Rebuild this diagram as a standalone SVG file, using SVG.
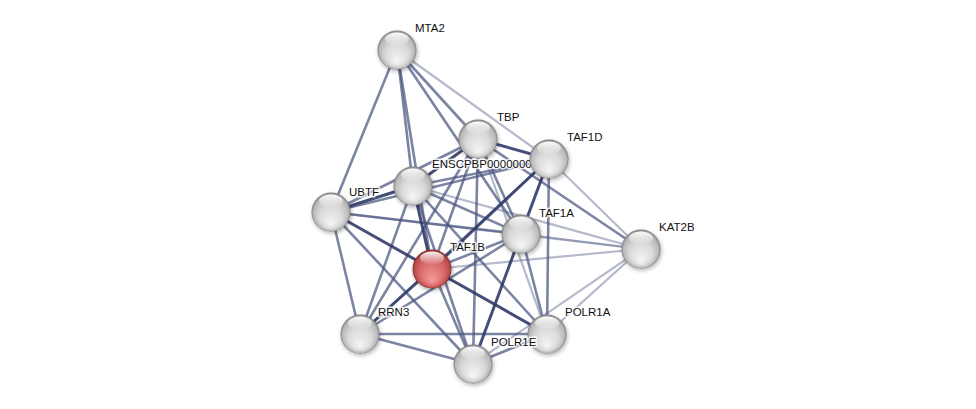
<svg xmlns="http://www.w3.org/2000/svg" width="976" height="409" viewBox="0 0 976 409">
<defs>
<radialGradient id="gGrey" cx="50%" cy="50%" r="50%" fx="50%" fy="82%">
<stop offset="0" stop-color="#f6f6f6"/>
<stop offset="0.6" stop-color="#d9d9d9"/>
<stop offset="0.9" stop-color="#b8b8b8"/>
<stop offset="1" stop-color="#7e7e7e"/>
</radialGradient>
<radialGradient id="gRed" cx="50%" cy="50%" r="50%" fx="50%" fy="82%">
<stop offset="0" stop-color="#f59c9c"/>
<stop offset="0.6" stop-color="#d96c6c"/>
<stop offset="0.9" stop-color="#bb4c4c"/>
<stop offset="1" stop-color="#872d2d"/>
</radialGradient>
<linearGradient id="gHi" x1="0" y1="0" x2="0" y2="1">
<stop offset="0" stop-color="#ffffff" stop-opacity="0.95"/>
<stop offset="1" stop-color="#ffffff" stop-opacity="0.05"/>
</linearGradient>
<filter id="sh" x="-50%" y="-50%" width="200%" height="200%">
<feGaussianBlur stdDeviation="2"/>
</filter>
</defs>
<style>
.e line{stroke-linecap:butt}
.d{stroke:#303b68;stroke-opacity:0.9;stroke-width:3}
.m{stroke:#4a5580;stroke-opacity:0.72;stroke-width:2.6}
.l{stroke:#6a7398;stroke-opacity:0.5;stroke-width:2.2}
.sh{fill:#000;opacity:0.3;filter:url(#sh)}
.hi{fill:url(#gHi)}
.ball{fill:url(#gGrey)}
.red{fill:url(#gRed)}
text{font-family:"Liberation Sans",Arial,sans-serif;font-size:11.5px;fill:#111;stroke:#fff;stroke-width:3;stroke-opacity:0.85;paint-order:stroke;stroke-linejoin:round}
</style>
<rect width="976" height="409" fill="#ffffff"/>
<g id="edges" class="e">
<line class="l" x1="397" y1="50" x2="549" y2="159"/>
<line class="l" x1="549" y1="159" x2="641" y2="249"/>
<line class="l" x1="521" y1="234" x2="641" y2="249"/>
<line class="l" x1="413" y1="186" x2="641" y2="249"/>
<line class="l" x1="331" y1="212" x2="641" y2="249"/>
<line class="l" x1="432" y1="269" x2="641" y2="249"/>
<line class="l" x1="547" y1="334" x2="641" y2="249"/>
<line class="l" x1="473" y1="364" x2="641" y2="249"/>
<line class="l" x1="478" y1="139" x2="547" y2="334"/>
<line class="l" x1="360" y1="334" x2="549" y2="159"/>
<line class="m" x1="397" y1="50" x2="331" y2="212"/>
<line class="m" x1="397" y1="50" x2="413" y2="186"/>
<line class="m" x1="397" y1="50" x2="432" y2="269"/>
<line class="m" x1="397" y1="50" x2="478" y2="139"/>
<line class="m" x1="397" y1="50" x2="521" y2="234"/>
<line class="m" x1="331" y1="212" x2="478" y2="139"/>
<line class="m" x1="331" y1="212" x2="549" y2="159"/>
<line class="m" x1="331" y1="212" x2="521" y2="234"/>
<line class="m" x1="331" y1="212" x2="360" y2="334"/>
<line class="m" x1="331" y1="212" x2="473" y2="364"/>
<line class="m" x1="478" y1="139" x2="521" y2="234"/>
<line class="m" x1="478" y1="139" x2="432" y2="269"/>
<line class="m" x1="478" y1="139" x2="360" y2="334"/>
<line class="m" x1="478" y1="139" x2="473" y2="364"/>
<line class="m" x1="478" y1="139" x2="641" y2="249"/>
<line class="m" x1="413" y1="186" x2="549" y2="159"/>
<line class="m" x1="413" y1="186" x2="360" y2="334"/>
<line class="m" x1="413" y1="186" x2="473" y2="364"/>
<line class="m" x1="413" y1="186" x2="547" y2="334"/>
<line class="m" x1="413" y1="186" x2="521" y2="234"/>
<line class="m" x1="549" y1="159" x2="547" y2="334"/>
<line class="m" x1="521" y1="234" x2="432" y2="269"/>
<line class="m" x1="521" y1="234" x2="547" y2="334"/>
<line class="m" x1="521" y1="234" x2="360" y2="334"/>
<line class="m" x1="432" y1="269" x2="473" y2="364"/>
<line class="m" x1="360" y1="334" x2="473" y2="364"/>
<line class="m" x1="360" y1="334" x2="547" y2="334"/>
<line class="m" x1="473" y1="364" x2="547" y2="334"/>
<line class="d" x1="413" y1="186" x2="331" y2="212"/>
<line class="d" x1="413" y1="186" x2="432" y2="269"/>
<line class="d" x1="413" y1="186" x2="478" y2="139"/>
<line class="d" x1="331" y1="212" x2="432" y2="269"/>
<line class="d" x1="549" y1="159" x2="432" y2="269"/>
<line class="d" x1="549" y1="159" x2="521" y2="234"/>
<line class="d" x1="478" y1="139" x2="549" y2="159"/>
<line class="d" x1="521" y1="234" x2="473" y2="364"/>
<line class="d" x1="432" y1="269" x2="547" y2="334"/>
<line class="d" x1="432" y1="269" x2="360" y2="334"/>
</g>
<g id="node-MTA2">
<circle class="sh" cx="398" cy="52" r="19.5"/>
<circle class="ball" cx="397" cy="50" r="19.5"/>
<ellipse class="hi" cx="397" cy="39" rx="12" ry="6.5"/>
<text x="415" y="32">MTA2</text>
</g>
<g id="node-TBP">
<circle class="sh" cx="479" cy="141" r="19.5"/>
<circle class="ball" cx="478" cy="139" r="19.5"/>
<ellipse class="hi" cx="478" cy="128" rx="12" ry="6.5"/>
<text x="497" y="121">TBP</text>
</g>
<g id="node-ENSCPBP">
<circle class="sh" cx="414" cy="188" r="19.5"/>
<circle class="ball" cx="413" cy="186" r="19.5"/>
<ellipse class="hi" cx="413" cy="175" rx="12" ry="6.5"/>
<text x="432" y="168">ENSCPBP00000000</text>
</g>
<g id="node-TAF1D">
<circle class="sh" cx="550" cy="161" r="19.5"/>
<circle class="ball" cx="549" cy="159" r="19.5"/>
<ellipse class="hi" cx="549" cy="148" rx="12" ry="6.5"/>
<text x="567" y="141">TAF1D</text>
</g>
<g id="node-UBTF">
<circle class="sh" cx="332" cy="214" r="19.5"/>
<circle class="ball" cx="331" cy="212" r="19.5"/>
<ellipse class="hi" cx="331" cy="201" rx="12" ry="6.5"/>
<text x="349" y="196">UBTF</text>
</g>
<g id="node-TAF1A">
<circle class="sh" cx="522" cy="236" r="19.5"/>
<circle class="ball" cx="521" cy="234" r="19.5"/>
<ellipse class="hi" cx="521" cy="223" rx="12" ry="6.5"/>
<text x="539" y="217">TAF1A</text>
</g>
<g id="node-KAT2B">
<circle class="sh" cx="642" cy="251" r="19.5"/>
<circle class="ball" cx="641" cy="249" r="19.5"/>
<ellipse class="hi" cx="641" cy="238" rx="12" ry="6.5"/>
<text x="659" y="231">KAT2B</text>
</g>
<g id="node-TAF1B">
<circle class="sh" cx="433" cy="271" r="19.5"/>
<circle class="red" cx="432" cy="269" r="19.5"/>
<ellipse class="hi" cx="432" cy="258" rx="12" ry="6.5"/>
<text x="450" y="251">TAF1B</text>
</g>
<g id="node-RRN3">
<circle class="sh" cx="361" cy="336" r="19.5"/>
<circle class="ball" cx="360" cy="334" r="19.5"/>
<ellipse class="hi" cx="360" cy="323" rx="12" ry="6.5"/>
<text x="378" y="316">RRN3</text>
</g>
<g id="node-POLR1A">
<circle class="sh" cx="548" cy="336" r="19.5"/>
<circle class="ball" cx="547" cy="334" r="19.5"/>
<ellipse class="hi" cx="547" cy="323" rx="12" ry="6.5"/>
<text x="565" y="316">POLR1A</text>
</g>
<g id="node-POLR1E">
<circle class="sh" cx="474" cy="366" r="19.5"/>
<circle class="ball" cx="473" cy="364" r="19.5"/>
<ellipse class="hi" cx="473" cy="353" rx="12" ry="6.5"/>
<text x="491" y="346">POLR1E</text>
</g>
</svg>
